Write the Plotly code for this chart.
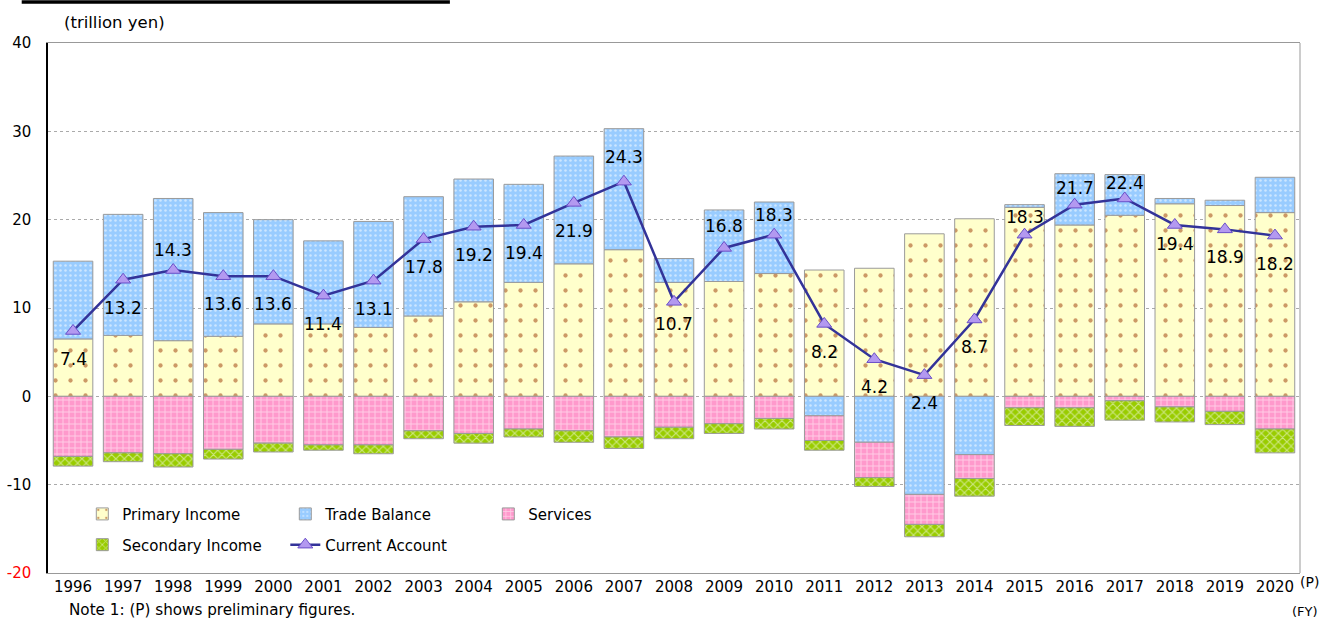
import plotly.graph_objects as go

# ---------------- data (trillion yen, fiscal years) ----------------
years = list(range(1996, 2021))
year_labels = [str(y) for y in years]
primary_income = [6.5, 6.9, 6.3, 6.8, 8.2, 8.2, 7.8, 9.1, 10.7, 12.9, 15.0, 16.6, 12.9,
                  13.0, 13.9, 14.3, 14.5, 18.4, 20.1, 21.4, 19.4, 20.5, 21.8, 21.6, 20.8]
trade_balance = [8.8, 13.7, 16.1, 14.0, 11.8, 9.4, 12.0, 13.5, 13.9, 11.1, 12.2, 13.7, 2.7,
                 8.1, 8.1, -2.2, -5.2, -11.1, -6.6, 0.3, 5.8, 4.6, 0.6, 0.6, 4.0]
services = [-6.8, -6.4, -6.5, -6.0, -5.3, -5.5, -5.5, -3.9, -4.2, -3.7, -3.9, -4.6, -3.5,
            -3.1, -2.5, -2.8, -4.0, -3.4, -2.7, -1.3, -1.3, -0.5, -1.2, -1.7, -3.7]
secondary_income = [-1.1, -1.0, -1.5, -1.1, -1.0, -0.6, -1.0, -0.9, -1.1, -0.9, -1.3, -1.3, -1.3,
                    -1.1, -1.2, -1.1, -1.0, -1.4, -2.0, -2.0, -2.1, -2.2, -1.7, -1.5, -2.7]
current_account = [7.4, 13.2, 14.3, 13.6, 13.6, 11.4, 13.1, 17.8, 19.2, 19.4, 21.9, 24.3, 10.7,
                   16.8, 18.3, 8.2, 4.2, 2.4, 8.7, 18.3, 21.7, 22.4, 19.4, 18.9, 18.2]
y_ticks = [-20, -10, 0, 10, 20, 30, 40]
y_ticktext = ['<span style="color:#ff0000">-20</span>', '-10', '0', '10', '20', '30', '40']

# ---------------- style ----------------
FONT = "DejaVu Sans"
y_min, y_max = -20, 40
outline = dict(color="#9a9a9a", width=1)

fig = go.Figure()

fig.add_trace(go.Bar(
    x=years, y=primary_income, name="Primary Income",
    marker=dict(color="#FFFFCC", line=outline,
                pattern=dict(shape=".", size=15, solidity=0.065, fgcolor="#993300",
                             fillmode="overlay")),
    legend="legend"))
fig.add_trace(go.Bar(
    x=years, y=trade_balance, name="Trade Balance",
    marker=dict(color="#99CCFF", line=outline,
                pattern=dict(shape=".", size=5, solidity=0.2, fgcolor="#FFFFFF",
                             fillmode="overlay")),
    legend="legend"))
fig.add_trace(go.Bar(
    x=years, y=services, name="Services",
    marker=dict(color="#FF99CC", line=outline,
                pattern=dict(shape="+", size=6, solidity=0.3, fgcolor="#FFFFFF",
                             fillmode="overlay")),
    legend="legend"))
fig.add_trace(go.Bar(
    x=years, y=secondary_income, name="Secondary Income",
    marker=dict(color="#99CC00", line=outline,
                pattern=dict(shape="x", size=6, solidity=0.35, fgcolor="#FFFFFF",
                             fillmode="overlay")),
    legend="legend2"))
fig.add_trace(go.Scatter(
    x=years, y=current_account, name="Current Account", mode="lines+markers",
    line=dict(color="#333399", width=2.5),
    marker=dict(symbol="triangle-up", size=13, color="#B399F0",
                line=dict(color="#6A4FC8", width=1)),
    legend="legend2"))

# current-account value labels
above = {1998: 20, 2007: 25, 2009: 22, 2010: 20, 2015: 18, 2016: 17, 2017: 15}
below = {2008: -22, 2018: -19}
for yr, v in zip(years, current_account):
    shift = above.get(yr, below.get(yr, -28))
    fig.add_annotation(x=yr, y=v, text=f"{v:.1f}", showarrow=False, yshift=shift,
                       font=dict(family=FONT, size=17, color="#000000"))

zero_pos = (0 - y_min) / (y_max - y_min)

fig.update_layout(
    width=1331, height=621,
    margin=dict(l=48, r=31, t=43, b=48, autoexpand=False),
    paper_bgcolor="white", plot_bgcolor="white",
    barmode="relative", bargap=0.21,
    font=dict(family=FONT, size=15, color="#000000"),
    showlegend=True,
    legend=dict(orientation="h", x=0.0274, xanchor="left", y=0.111, yanchor="middle",
                entrywidth=158, bgcolor="rgba(0,0,0,0)", font=dict(family=FONT, size=15),
                traceorder="normal"),
    legend2=dict(orientation="h", x=0.0274, xanchor="left", y=0.053, yanchor="middle",
                 entrywidth=158, bgcolor="rgba(0,0,0,0)", font=dict(family=FONT, size=15),
                 traceorder="normal"),
    xaxis=dict(range=[1995.5, 2020.5], tickmode="array", tickvals=years, ticktext=year_labels,
               ticks="", showgrid=False, zeroline=False, showline=True, linecolor="#999999",
               linewidth=1, mirror=True, automargin=False,
               tickfont=dict(family=FONT, size=15)),
    xaxis2=dict(range=[1995.5, 2020.5], overlaying="x", anchor="free", position=zero_pos,
                showline=True, linecolor="#000000", linewidth=1.5, ticks="inside",
                ticklen=5, tickcolor="#000000", tickwidth=1, automargin=False,
                tickmode="linear", tick0=1995.5, dtick=1, showticklabels=False,
                showgrid=False, zeroline=False),
    yaxis=dict(range=[y_min, y_max], tickmode="array", tickvals=y_ticks, ticktext=y_ticktext,
               ticks="", showgrid=True, gridcolor="#aaaaaa", griddash="dot", gridwidth=1,
               zeroline=False, showline=True, linecolor="#000000", linewidth=1.5,
               automargin=False, ticklabelstandoff=12,
               tickfont=dict(family=FONT, size=15)),
)

# right-hand frame edge (grey) and title rule
fig.add_shape(type="line", xref="paper", yref="paper", x0=1, x1=1, y0=0, y1=1,
              line=dict(color="#999999", width=1))
fig.add_shape(type="line", xref="paper", yref="paper", x0=-0.021, x1=0.321,
              y0=1.0774, y1=1.0774, line=dict(color="#000000", width=3.5))

fig.add_annotation(xref="paper", yref="paper", x=0.011, y=1.0396, xanchor="left",
                   yanchor="middle", text="(trillion yen)", showarrow=False,
                   font=dict(family=FONT, size=16.5))
fig.add_annotation(xref="paper", yref="paper", x=0.015, y=-0.0700, xanchor="left",
                   yanchor="middle", text="Note 1: (P) shows preliminary figures.",
                   showarrow=False, font=dict(family=FONT, size=15.2))
fig.add_annotation(xref="paper", yref="paper", x=1.016, y=-0.0720, xanchor="right",
                   yanchor="middle", text="(FY)", showarrow=False,
                   font=dict(family=FONT, size=13))
fig.add_annotation(xref="paper", yref="paper", x=1.0075, y=-0.017, xanchor="center",
                   yanchor="middle", text="(P)", showarrow=False,
                   font=dict(family=FONT, size=14))

fig.write_html("out.html", config={"displayModeBar": False},
               post_script="document.body.style.margin='0';document.body.style.overflow='hidden';")
